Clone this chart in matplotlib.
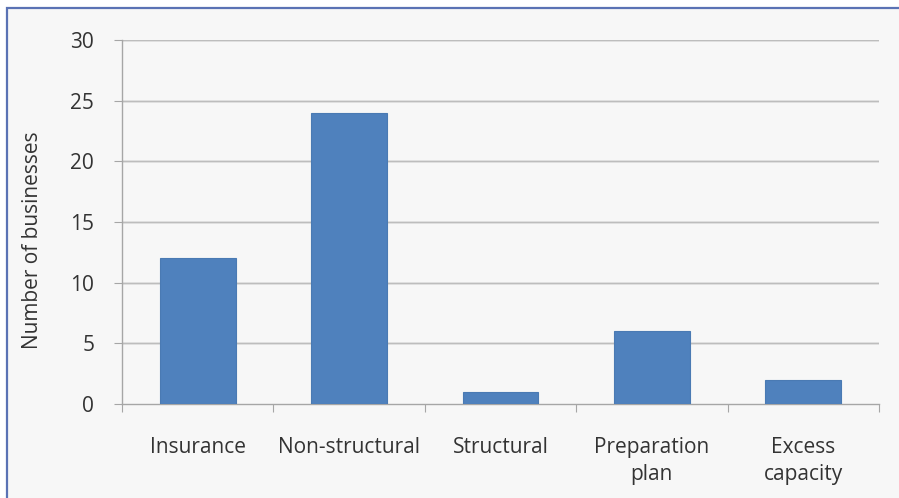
import matplotlib.pyplot as plt
from matplotlib.patches import Rectangle

categories = ['Insurance', 'Non-structural', 'Structural', 'Preparation\nplan', 'Excess\ncapacity']
counts = [12, 24, 1, 6, 2]
yticks = [0, 5, 10, 15, 20, 25, 30]

plt.rcParams['font.family'] = ['Open Sans', 'DejaVu Sans']
txt = '#333333'
fs = 15

W, H = 899, 498
fig = plt.figure(figsize=(W / 100, H / 100), dpi=100)
fig.patch.set_facecolor('white')

# light grey panel with blue frame (only top and left edges fall inside the image)
panel = Rectangle((6.5 / W, -0.02), 1.05, 1.02 - 8.5 / H, transform=fig.transFigure,
                  facecolor='#f7f7f7', edgecolor='#5a72b4', linewidth=1.6, zorder=-5)
fig.patches.append(panel)

ax = fig.add_axes([122 / W, 1 - 404 / H, (879 - 122) / W, (404 - 40) / H])
ax.set_facecolor('none')
ax.set_zorder(1)

x = range(len(categories))
ax.bar(x, counts, width=0.5, color='#4f81bd', edgecolor='#4a7ab3', linewidth=0.8, zorder=3)

ax.set_xlim(-0.5, len(categories) - 0.5)
ax.set_ylim(0, 30)
ax.set_yticks(yticks)
for t in yticks[1:]:
    ax.axhline(t, color='#e2e2e2', linewidth=2.0, zorder=1)
    ax.axhline(t, color='#bdbdbd', linewidth=0.9, zorder=2)

for side in ['top', 'right']:
    ax.spines[side].set_visible(False)
for side in ['left', 'bottom']:
    ax.spines[side].set_color('#a6a6a6')
    ax.spines[side].set_linewidth(1.0)

# ticks at category boundaries, labels at bar centres
ax.set_xticks([i - 0.5 for i in range(len(categories) + 1)])
ax.set_xticklabels([])
ax.set_xticks(list(x), minor=True)
ax.set_xticklabels(categories, minor=True, fontsize=fs, color=txt, linespacing=1.35)
ax.tick_params(axis='x', which='major', length=6, color='#a6a6a6', direction='out')
ax.tick_params(axis='x', which='minor', length=0, pad=24)
ax.tick_params(axis='y', length=6, color='#a6a6a6', labelsize=fs, labelcolor=txt, pad=14)
for lbl in ax.get_xticklabels(minor=True):
    lbl.set_verticalalignment('top')

ax.set_ylabel('Number of businesses', fontsize=fs, color=txt)
ax.yaxis.set_label_coords(-0.104, 0.45)

fig.savefig('out.png', dpi=100)
